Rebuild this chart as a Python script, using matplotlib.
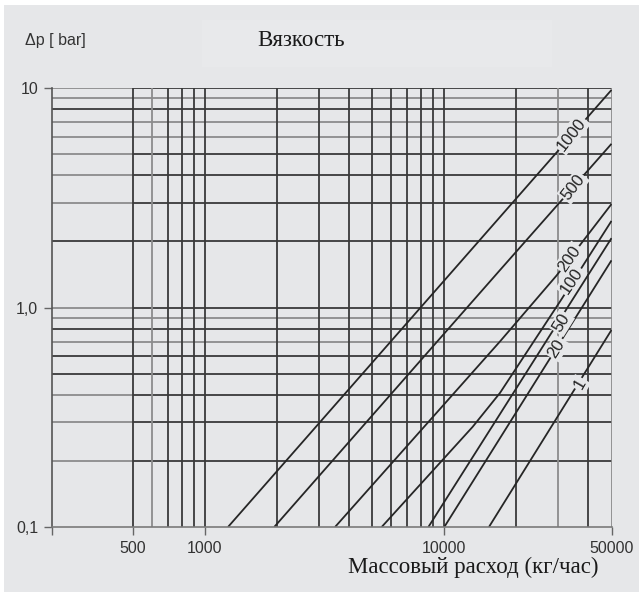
import matplotlib.pyplot as plt
import matplotlib.patches as patches
import matplotlib.ticker as mticker

# Кривые вязкости: массовый расход (кг/час) -> перепад давления (bar)
v1000_x = [1250, 50000]
v1000_y = [0.1, 9.8]
v500_x = [1950, 17100, 50000]
v500_y = [0.1, 1.48, 5.57]
v200_x = [3500, 17100, 29500, 50000]
v200_y = [0.1, 0.70, 1.40, 2.96]
v100_x = [5480, 13150, 17100, 30900, 50000]
v100_y = [0.1, 0.286, 0.408, 1.09, 2.48]
v50_x = [8590, 50000]
v50_y = [0.1, 2.07]
v20_x = [10010, 50000]
v20_y = [0.1, 1.64]
v1_x = [15380, 50000]
v1_y = [0.1, 0.79]

curves_x = [v1000_x, v500_x, v200_x, v100_x, v50_x, v20_x, v1_x]
curves_y = [v1000_y, v500_y, v200_y, v100_y, v50_y, v20_y, v1_y]

# подписи кривых
lab_text = ['1000', '500', '200', '100', '50', '20', '1']
lab_x = [34000, 34600, 33500, 34000, 30900, 29500, 36900]
lab_y = [6.16, 3.54, 1.67, 1.325, 0.851, 0.652, 0.448]
lab_rot = [52, 52, 55, 56, 58, 58, 60]

# сетка
grid_x = [500, 600, 700, 800, 900, 1000, 2000, 3000, 4000, 5000, 6000, 7000,
          8000, 9000, 10000, 20000, 30000, 40000, 50000]
grid_y = [0.2, 0.3, 0.4, 0.5, 0.6, 0.7, 0.8, 0.9, 1, 2, 3, 4, 5, 6, 7, 8, 9, 10]
light_x = [600, 30000, 50000]
light_y = [9, 7, 6, 0.9, 0.7]

xticks = [230, 500, 1000, 10000, 50000]
xtick_labels = ['', '500', '1000', '10000', '50000']
yticks = [0.1, 1, 10]
ytick_labels = ['0,1', '1,0', '10']

bg = '#e6e7e9'
dark = '#3a3a3a'
light = '#8c8c8c'
sans = ['Liberation Sans', 'DejaVu Sans']
serif = ['Liberation Serif', 'DejaVu Serif']

fig = plt.figure(figsize=(6.39, 5.92), dpi=100)
fig.patch.set_facecolor('white')
fig.add_artist(patches.Rectangle((4 / 639, 0), 1, 1 - 5 / 592, transform=fig.transFigure,
                                 fc=bg, ec='none', zorder=-10))
fig.add_artist(patches.Rectangle((202 / 639, 1 - 67 / 592), 350 / 639, 47 / 592,
                                 transform=fig.transFigure, fc='#e8e9eb', ec='none', zorder=-9))

ax = fig.add_axes([52 / 639, 65 / 592, (611.5 - 52) / 639, (527 - 88) / 592])
ax.set_facecolor('none')
ax.set_xscale('log')
ax.set_yscale('log')
ax.set_xlim(230, 50000)
ax.set_ylim(0.1, 10)

# горизонтальные линии: слева от 500 светлее
for y in grid_y:
    c = light if y in light_y else dark
    ax.hlines(y, 230, 500, color=light if y not in [8, 2, 0.8, 0.6, 0.5] else dark,
              lw=1.3, zorder=1)
    ax.hlines(y, 500, 50000, color=c, lw=1.3, zorder=1)
for x in grid_x:
    c = light if x in light_x else dark
    ax.vlines(x, 0.1, 10, color=c, lw=1.3, zorder=1)

for cx, cy in zip(curves_x, curves_y):
    ax.plot(cx, cy, color='#262626', lw=1.3, zorder=2, solid_capstyle='butt')

for t, x, y, r in zip(lab_text, lab_x, lab_y, lab_rot):
    ax.text(x, y, t, rotation=r, ha='center', va='center', fontsize=12,
            family=sans, color='#222222', zorder=3,
            bbox=dict(boxstyle='square,pad=0.1', fc=bg, ec='none'))

ax.spines['top'].set_visible(False)
ax.spines['right'].set_visible(False)
ax.spines['left'].set_color('#555555')
ax.spines['bottom'].set_color('#7a7a7a')
ax.spines['left'].set_linewidth(1.2)
ax.spines['bottom'].set_linewidth(1.2)

ax.set_xticks(xticks)
ax.set_xticklabels(xtick_labels)
ax.set_yticks(yticks)
ax.set_yticklabels(ytick_labels)
ax.xaxis.set_minor_locator(mticker.NullLocator())
ax.yaxis.set_minor_locator(mticker.NullLocator())
ax.tick_params(axis='both', direction='out', length=6, width=1, color='#666666',
               labelsize=11.5, labelcolor='#333333', pad=4)
for lbl in ax.get_xticklabels() + ax.get_yticklabels():
    lbl.set_family(sans)

fig.text(25 / 639, 1 - 40 / 592, 'Δp [ bar]', ha='left', va='center', fontsize=11.5,
         family=sans, color='#333333')
fig.text(301 / 639, 1 - 40 / 592, 'Вязкость', ha='center', va='center', fontsize=16.5,
         family=serif, color='#1a1a1a')
fig.text(598 / 639, 1 - 567 / 592, 'Массовый расход (кг/час)', ha='right', va='center',
         fontsize=16.5, family=serif, color='#1a1a1a')

plt.savefig('out.png', dpi=100)
